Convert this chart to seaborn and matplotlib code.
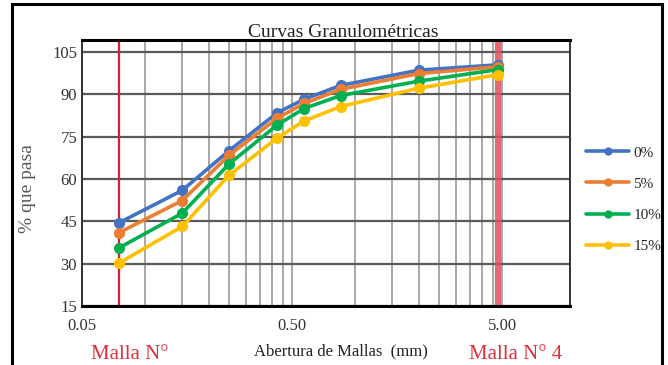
import matplotlib
matplotlib.use("Agg")
import matplotlib.pyplot as plt
from matplotlib.patches import Rectangle
from matplotlib.ticker import FixedLocator, NullFormatter
import seaborn as sns
import pandas as pd

# abertura de malla (mm) y % que pasa para cada serie
abertura = [0.075, 0.15, 0.25, 0.425, 0.57, 0.85, 2.0, 4.75]
series = ["0%", "5%", "10%", "15%"]
pasa_0 = [44.5, 56.0, 70.0, 83.5, 88.3, 93.2, 98.6, 100.5]
pasa_5 = [41.0, 52.4, 68.4, 81.6, 86.8, 91.8, 97.4, 99.8]
pasa_10 = [35.6, 47.9, 65.3, 79.2, 85.0, 89.6, 94.7, 98.8]
pasa_15 = [30.2, 43.2, 61.3, 74.6, 80.6, 85.7, 92.2, 97.0]
colores = ["#4472C4", "#ED7D31", "#00B050", "#FFC000"]

yticks = [15, 30, 45, 60, 75, 90, 105]
xticks = [0.05, 0.5, 5.0]
xtick_labels = ["0.05", "0.50", "5.00"]

rows = []
for name, vals in zip(series, [pasa_0, pasa_5, pasa_10, pasa_15]):
    for a, p in zip(abertura, vals):
        rows.append({"abertura": a, "pasa": p, "serie": name})
df = pd.DataFrame(rows)

sns.set_style("white")
plt.rcParams["font.family"] = ["Liberation Serif", "DejaVu Serif"]

fig = plt.figure(figsize=(6.68, 3.65), dpi=100)
ax = fig.add_axes([82 / 668, 1 - 306 / 365, 488 / 668, 266 / 365])
ax.set_xscale("log")

# minor gridlines like the Excel log axis (steps of 0.05 and 0.5)
minor = [0.05 * k for k in range(2, 10)] + [0.5 * k for k in range(2, 10)]
ax.xaxis.set_major_locator(FixedLocator(xticks))
ax.xaxis.set_minor_locator(FixedLocator(minor))
ax.xaxis.set_minor_formatter(NullFormatter())
ax.set_xticklabels(xtick_labels)
ax.grid(which="both", axis="x", color="#a0a0a0", lw=1.3, zorder=0)
ax.grid(which="major", axis="y", color="#5a5a5a", lw=1.6, zorder=0)

ax.axvline(0.075, color="#d4202e", lw=1.6, zorder=2)
ax.axvline(4.75, color="#de4f5e", lw=4.5, alpha=0.85, zorder=2)

sns.lineplot(data=df, x="abertura", y="pasa", hue="serie", hue_order=series,
             palette=colores, marker="o", markersize=8, markeredgewidth=0,
             linewidth=2.6, ax=ax, zorder=3)

ax.set_xlim(0.05, 10.5)
ax.set_ylim(15, 109.3)
ax.set_yticks(yticks)
ax.tick_params(axis="both", length=0, labelsize=12, labelcolor="#333333")
ax.tick_params(axis="x", pad=9)

for side in ["left", "right"]:
    ax.spines[side].set_color("#333333")
    ax.spines[side].set_linewidth(1.4)
for side in ["top", "bottom"]:
    ax.spines[side].set_color("black")
    ax.spines[side].set_linewidth(2.2)

ax.set_title("Curvas Granulométricas", fontsize=14, pad=2, color="#222222", x=0.535)
ax.set_xlabel("Abertura de Mallas  (mm)", fontsize=12, color="#222222")
ax.xaxis.set_label_coords(0.53, -0.14)
ax.set_ylabel("% que pasa", fontsize=14, color="#595959")
ax.yaxis.set_label_coords(-0.095, 0.44)

leg = ax.legend(loc="center left", bbox_to_anchor=(1.005, 0.40), frameon=False,
                fontsize=11, handlelength=2.8, labelspacing=1.15, handletextpad=0.3)
for line in leg.get_lines():
    line.set_markersize(6)

fig.text(130 / 668, 1 - 359 / 365, "Malla N°", color="#e0303f", fontsize=15,
         ha="center", va="baseline")
fig.text(516 / 668, 1 - 359 / 365, "Malla N° 4", color="#e0303f", fontsize=15,
         ha="center", va="baseline")

fig.patches.append(Rectangle((12 / 668, -0.05), (662 - 12) / 668, 1 - 4 / 365 + 0.05,
                             transform=fig.transFigure, fill=False, lw=2.2,
                             edgecolor="black"))

fig.savefig("out.png", dpi=100)
